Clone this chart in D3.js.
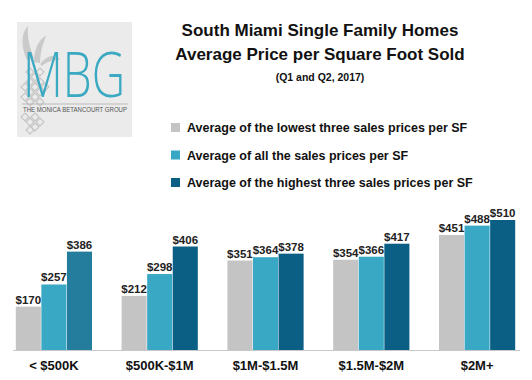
<!DOCTYPE html>
<html><head><meta charset="utf-8">
<script src="https://cdn.jsdelivr.net/npm/d3@7"></script>
<style>body{margin:0;background:#fff}svg{display:block}text{font-family:"Liberation Sans",Arial,Helvetica,sans-serif}</style>
</head><body>
<script>
const categories = ["< $500K", "$500K-$1M", "$1M-$1.5M", "$1.5M-$2M", "$2M+"];
const seriesNames = ["Average of the lowest three sales prices per SF", "Average of all the sales prices per SF", "Average of the highest three sales prices per SF"];
const lowest3 = [170, 212, 351, 354, 451];
const allSales = [257, 298, 364, 366, 488];
const highest3 = [386, 406, 378, 417, 510];
const seriesColors = ["#c4c4c4", "#38a8c5", "#0b5f85"];
const titleLines = ["South Miami Single Family Homes", "Average Price per Square Foot Sold"];
const subtitle = "(Q1 and Q2, 2017)";

const W = 532, H = 380;
const svg = d3.select("body").append("svg").attr("width", W).attr("height", H);

// Logo
const logo = svg.append("g");
logo.append("rect").attr("x", 17).attr("y", 22).attr("width", 115).attr("height", 115).attr("fill", "#ebebeb");
const leafG = logo.append("g").attr("fill", "#c2c2c2").attr("opacity", 0.8);
leafG.append("path").attr("d", "M27,60 C20,45 22,32 28,26 C27,38 30,48 34,58 Z");
leafG.append("path").attr("d", "M34,62 C34,48 40,38 46,36 C42,46 40,54 40,63 Z");
leafG.append("path").attr("d", "M40,64 C48,54 56,54 60,60 C52,60 46,62 42,66 Z");
const body = logo.append("g").attr("fill", "none").attr("stroke", "#bcbcbc").attr("stroke-width", 1.1).attr("opacity", 0.8);
const cells = [[30,72],[40,72],[35,77],[30,82],[40,82],[25,87],[35,87],[45,87],[30,92],[40,92],[25,97],[35,97],[30,102],[40,102],[25,117],[35,117],[30,122],[40,122],[35,127],[30,130]];
cells.forEach(c => body.append("path").attr("d", `M${c[0]},${c[1]-4} L${c[0]+4},${c[1]} L${c[0]},${c[1]+4} L${c[0]-4},${c[1]} Z`));
logo.append("text").attr("x", 74).attr("y", 97).attr("text-anchor", "middle")
  .attr("font-size", 63).attr("font-weight", 300).attr("fill", "#3aa9c1")
  .style("font-family", "'DejaVu Sans ExtraLight','Open Sans','Lato',sans-serif")
  .attr("textLength", 102).attr("lengthAdjust", "spacingAndGlyphs").text("MBG");
logo.append("line").attr("x1", 22).attr("x2", 128).attr("y1", 104).attr("y2", 104).attr("stroke", "#9a9a9a").attr("stroke-width", 0.6);
logo.append("text").attr("x", 75).attr("y", 112).attr("text-anchor", "middle")
  .attr("font-size", 6.5).attr("fill", "#555").attr("textLength", 104).attr("lengthAdjust", "spacingAndGlyphs")
  .text("THE MONICA BETANCOURT GROUP");

// Titles
svg.append("text").attr("x", 320).attr("y", 36).attr("text-anchor", "middle").attr("font-size", 17).attr("font-weight", "bold").attr("fill", "#111").text(titleLines[0]);
svg.append("text").attr("x", 320).attr("y", 60).attr("text-anchor", "middle").attr("font-size", 17).attr("font-weight", "bold").attr("fill", "#111").text(titleLines[1]);
svg.append("text").attr("x", 320).attr("y", 81).attr("text-anchor", "middle").attr("font-size", 10.5).attr("font-weight", "bold").attr("fill", "#111").text(subtitle);

// Legend
const legend = svg.append("g");
seriesNames.forEach((n, i) => {
  const yy = 123 + i * 27.5;
  legend.append("rect").attr("x", 171).attr("y", yy).attr("width", 9).attr("height", 9).attr("fill", seriesColors[i]);
  legend.append("text").attr("x", 187).attr("y", yy + 9).attr("font-size", 12.5).attr("font-weight", "bold").attr("fill", "#111").text(n);
});

// Chart
const x0 = d3.scaleBand().domain(categories).range([1, 530]).paddingInner(0.27).paddingOuter(0.135);
const keys = [0, 1, 2];
const x1 = d3.scaleBand().domain(keys).range([0, x0.bandwidth()]).padding(0.02);
const y = d3.scaleLinear().domain([0, 510]).range([350, 220]);
const series = [lowest3, allSales, highest3];

const g = svg.append("g");
categories.forEach((c, ci) => {
  const grp = g.append("g").attr("transform", `translate(${x0(c)},0)`);
  keys.forEach(k => {
    const v = series[k][ci];
    let col = seriesColors[k];
    if (k === 2 && ci === 0) col = "#247d9d";
    grp.append("rect").attr("x", x1(k)).attr("y", y(v)).attr("width", x1.bandwidth()).attr("height", y(0) - y(v)).attr("fill", col);
    grp.append("text").attr("x", x1(k) + x1.bandwidth() / 2).attr("y", y(v) - 3).attr("text-anchor", "middle")
      .attr("font-size", 11.5).attr("font-weight", "bold").attr("fill", "#222").text("$" + v);
  });
});

// Axis
const axis = svg.append("g").attr("transform", "translate(0,350)").call(d3.axisBottom(x0).tickSize(0).tickPadding(11));
axis.select(".domain").attr("d", "M13,0.5H520").attr("stroke", "#c8c8c8").attr("stroke-width", 1.2);
axis.selectAll("text").attr("font-size", 13).attr("font-weight", "bold").attr("fill", "#111").style("font-family", "'Liberation Sans',Arial,sans-serif");
</script>
</body></html>
